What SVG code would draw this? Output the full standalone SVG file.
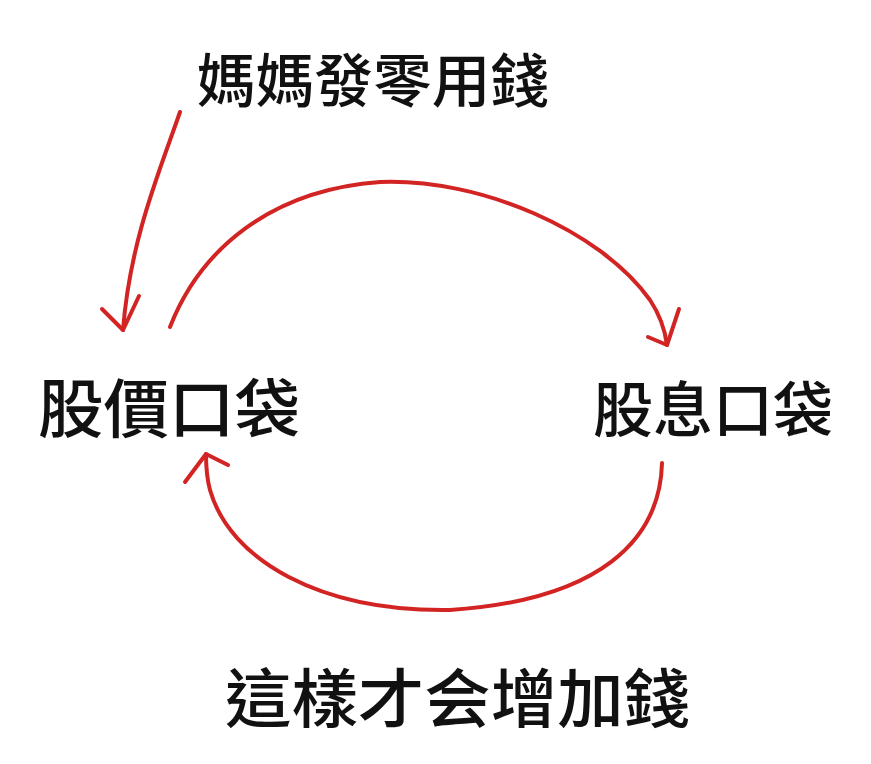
<svg xmlns="http://www.w3.org/2000/svg" width="871" height="764" viewBox="0 0 871 764">
<style>
.lbl{font-family:"Noto Sans CJK TC","Noto Sans CJK SC",sans-serif;font-weight:500;fill:#111;}
.c{fill:none;stroke:#d32424;stroke-width:4;stroke-linecap:round;stroke-linejoin:round;}
</style>
<rect width="871" height="764" fill="#ffffff"/>
<g id="connectors">
<path class="c" d="M180,112 C160,170 130,240 123,330"/>
<path class="c" d="M102,309 L123,330 L139,296"/>
<path class="c" d="M170,327 C200,250 270,190 380,182 C480,178 600,230 650,300 C660,315 665,330 667,345"/>
<path class="c" d="M648,337 L667,345 L679,309"/>
<path class="c" d="M662,463 C660,540 600,600 450,610 C320,612 230,560 210,490 C206,475 206,465 206,454"/>
<path class="c" d="M185,482 L206,454 L228,465"/>
</g>
<g id="n_top"><text class="lbl" x="197" y="102" font-size="58" textLength="352" lengthAdjust="spacingAndGlyphs">媽媽發零用錢</text></g>
<g id="n_left"><text class="lbl" x="38" y="432" font-size="64" textLength="262" lengthAdjust="spacingAndGlyphs">股價口袋</text></g>
<g id="n_right"><text class="lbl" x="593" y="432" font-size="60" textLength="240" lengthAdjust="spacingAndGlyphs">股息口袋</text></g>
<g id="n_bottom"><text class="lbl" x="225" y="722" font-size="64" textLength="465" lengthAdjust="spacingAndGlyphs">這樣才会增加錢</text></g>
</svg>
